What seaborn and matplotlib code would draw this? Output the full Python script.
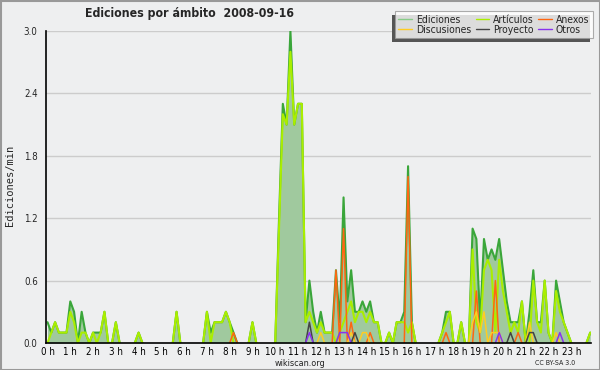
import os
import numpy as np
import pandas as pd
import matplotlib
matplotlib.use("Agg")
import matplotlib.pyplot as plt
from matplotlib.patches import Rectangle
from matplotlib.lines import Line2D
from matplotlib import font_manager as fm
import seaborn as sns

sns.set_style("white")
plt.rcParams["font.family"] = ["DejaVu Sans"]

# 10-minute slots, 24 h -> 144 values per series (edits/min)
hour_labels = [f"{h} h" for h in range(24)]

ediciones = [
    0.2, 0.1, 0.2, 0.1, 0.1, 0.1,
    0.4, 0.3, 0.0, 0.3, 0.1, 0.0,
    0.1, 0.1, 0.1, 0.3, 0.0, 0.0,
    0.2, 0.0, 0.0, 0.0, 0.0, 0.0,
    0.1, 0.0, 0.0, 0.0, 0.0, 0.0,
    0.0, 0.0, 0.0, 0.0, 0.3, 0.0,
    0.0, 0.0, 0.0, 0.0, 0.0, 0.0,
    0.3, 0.1, 0.2, 0.2, 0.2, 0.3,
    0.2, 0.1, 0.0, 0.0, 0.0, 0.0,
    0.2, 0.0, 0.0, 0.0, 0.0, 0.0,
    0.0, 1.2, 2.3, 2.1, 3.0, 2.1,
    2.3, 2.3, 0.2, 0.6, 0.3, 0.1,
    0.3, 0.1, 0.1, 0.1, 0.7, 0.2,
    1.4, 0.4, 0.7, 0.3, 0.3, 0.4,
    0.3, 0.4, 0.2, 0.2, 0.0, 0.0,
    0.1, 0.0, 0.2, 0.2, 0.3, 1.7,
    0.2, 0.0, 0.0, 0.0, 0.0, 0.0,
    0.0, 0.0, 0.1, 0.3, 0.3, 0.0,
    0.0, 0.2, 0.0, 0.0, 1.1, 1.0,
    0.2, 1.0, 0.8, 0.9, 0.8, 1.0,
    0.7, 0.4, 0.2, 0.2, 0.2, 0.4,
    0.0, 0.3, 0.7, 0.2, 0.2, 0.6,
    0.1, 0.0, 0.6, 0.4, 0.2, 0.1,
    0.0, 0.0, 0.0, 0.0, 0.0, 0.1,
]

articulos = [
    0.0, 0.1, 0.2, 0.1, 0.1, 0.1,
    0.3, 0.2, 0.0, 0.1, 0.1, 0.0,
    0.1, 0.0, 0.1, 0.3, 0.0, 0.0,
    0.2, 0.0, 0.0, 0.0, 0.0, 0.0,
    0.1, 0.0, 0.0, 0.0, 0.0, 0.0,
    0.0, 0.0, 0.0, 0.0, 0.3, 0.0,
    0.0, 0.0, 0.0, 0.0, 0.0, 0.0,
    0.3, 0.0, 0.2, 0.2, 0.2, 0.3,
    0.2, 0.0, 0.0, 0.0, 0.0, 0.0,
    0.2, 0.0, 0.0, 0.0, 0.0, 0.0,
    0.0, 1.1, 2.2, 2.1, 2.8, 2.1,
    2.3, 2.3, 0.2, 0.3, 0.2, 0.1,
    0.2, 0.1, 0.1, 0.1, 0.0, 0.1,
    0.2, 0.3, 0.4, 0.2, 0.3, 0.3,
    0.2, 0.3, 0.2, 0.2, 0.0, 0.0,
    0.1, 0.0, 0.2, 0.2, 0.2, 0.1,
    0.2, 0.0, 0.0, 0.0, 0.0, 0.0,
    0.0, 0.0, 0.1, 0.2, 0.3, 0.0,
    0.0, 0.2, 0.0, 0.0, 0.9, 0.2,
    0.1, 0.7, 0.8, 0.7, 0.1, 0.8,
    0.5, 0.3, 0.1, 0.2, 0.1, 0.4,
    0.0, 0.0, 0.6, 0.2, 0.1, 0.6,
    0.1, 0.0, 0.5, 0.3, 0.2, 0.1,
    0.0, 0.0, 0.0, 0.0, 0.0, 0.1,
]

anexos = [0.0] * 144
for i, v in {49: 0.1, 76: 0.7, 78: 1.1, 80: 0.2, 85: 0.1, 95: 1.6,
             105: 0.1, 113: 0.5, 118: 0.6, 124: 0.1}.items():
    anexos[i] = v

discusiones = [0.0] * 144
for i, v in {72: 0.1, 80: 0.1, 83: 0.1, 84: 0.1, 112: 0.2, 113: 0.3,
             114: 0.1, 115: 0.3, 117: 0.1, 118: 0.1, 119: 0.1, 127: 0.2,
             134: 0.1}.items():
    discusiones[i] = v

proyecto = [0.0] * 144
for i, v in {69: 0.2, 81: 0.1, 122: 0.1, 127: 0.1, 128: 0.1}.items():
    proyecto[i] = v

otros = [0.0] * 144
for i, v in {69: 0.1, 77: 0.1, 78: 0.1, 79: 0.1, 119: 0.1, 135: 0.1}.items():
    otros[i] = v

series_names = ["Ediciones", "Artículos", "Anexos", "Discusiones", "Proyecto", "Otros"]
series_values = [ediciones, articulos, anexos, discusiones, proyecto, otros]

# ---- fonts: prefer a condensed DejaVu face if the files exist ----
def find_font(fragment):
    for f in fm.findSystemFonts():
        if os.path.basename(f) == fragment:
            return f
    return None

cond = find_font("DejaVuSansCondensed.ttf")
cond_b = find_font("DejaVuSansCondensed-Bold.ttf")
fp_small = fm.FontProperties(fname=cond) if cond else fm.FontProperties(family="DejaVu Sans")
fp_bold = fm.FontProperties(fname=cond_b) if cond_b else fm.FontProperties(family="DejaVu Sans", weight="bold")

def fp(base, size):
    p = base.copy()
    p.set_size(size)
    return p

slot = np.arange(144)


def segments(vals):
    """Long-format frame keeping only runs that leave the zero baseline."""
    v = np.asarray(vals, dtype=float)
    keep = v > 0
    keep = keep | np.r_[keep[1:], False] | np.r_[False, keep[:-1]]
    seg = np.cumsum(np.r_[True, keep[1:] != keep[:-1]])
    d = pd.DataFrame({"slot": slot, "value": v, "seg": seg})
    return d[keep]


BG = "#eeeff0"
fig = plt.figure(figsize=(6, 3.7), dpi=100, facecolor=BG)
ax = fig.add_axes([46 / 600, 1 - 343 / 370, 545 / 600, 312 / 370])
ax.set_facecolor(BG)

colors = {
    "Ediciones": "#3aa63a",
    "Artículos": "#aaee00",
    "Anexos": "#ff6611",
    "Discusiones": "#ffcc22",
    "Proyecto": "#444444",
    "Otros": "#8833ee",
}
widths = {"Ediciones": 1.5, "Artículos": 1.5}
zord = {"Ediciones": 3, "Artículos": 4}

ax.fill_between(slot, ediciones, 0, color="#a0c99e", lw=0, zorder=1)
for name, vals in zip(series_names, series_values):
    d = segments(vals)
    sns.lineplot(data=d, x="slot", y="value", units="seg", estimator=None,
                 ax=ax, color=colors[name], lw=widths.get(name, 1.1),
                 zorder=zord.get(name, 5))

ax.set_xlim(-0.4, 143.2)
ax.set_ylim(0, 3.0)
ax.set_xticks(np.arange(0, 144, 6))
ax.set_xticklabels(hour_labels, fontproperties=fp(fp_small, 7))
ax.set_xticks(np.arange(0, 144, 1), minor=True)
yt = np.arange(0, 3.01, 0.6)
ax.set_yticks(yt)
ax.set_yticklabels([f"{v:.1f}" for v in yt], fontproperties=fp(fp_small, 7))
ax.set_yticks(np.arange(0, 3.01, 0.15), minor=True)
ax.tick_params(axis="x", which="major", direction="out", length=3, width=1,
               pad=0, colors="black")
ax.tick_params(axis="x", which="minor", direction="out", length=3, width=1)
ax.tick_params(axis="y", which="major", direction="out", length=5, width=1,
               pad=1)
ax.tick_params(axis="y", which="minor", direction="out", length=3, width=1)
ax.yaxis.grid(True, which="major", color="#cccccc", lw=1)
ax.set_axisbelow(True)
for s in ["top", "right"]:
    ax.spines[s].set_visible(False)
for s in ["left", "bottom"]:
    ax.spines[s].set_color("black")
    ax.spines[s].set_linewidth(1.2)
    ax.spines[s].set_zorder(6)
ax.set_xlabel("")
ax.set_ylabel("")

fig.text(10 / 600, 0.5, "Ediciones/min", rotation=90, va="center", ha="center",
         fontsize=7.5, family="DejaVu Sans Mono")
fig.text(85 / 600, 1 - 14 / 370, "Ediciones por ámbito  2008-09-16",
         fontproperties=fp(fp_bold, 8.8), va="center", ha="left")
fig.text(300 / 600, 1 - 363.5 / 370, "wikiscan.org", fontproperties=fp(fp_small, 6.5),
         va="center", ha="center", color="#222222")
fig.text(555 / 600, 1 - 363 / 370, "CC BY-SA 3.0", fontproperties=fp(fp_small, 5),
         va="center", ha="center", color="#222222")

order = ["Ediciones", "Discusiones", "Artículos", "Proyecto", "Anexos", "Otros"]
leg_colors = dict(colors)
leg_colors["Ediciones"] = "#88cc88"
handles = [Line2D([], [], color=leg_colors[n], lw=1) for n in order]
leg = fig.legend(handles, order, ncol=3, loc="upper right",
                 bbox_to_anchor=(593 / 600, 1 - 11 / 370),
                 prop=fp(fp_small, 7.5), frameon=True, fancybox=False,
                 handlelength=1.3, handletextpad=0.4, columnspacing=0.4,
                 labelspacing=0.0, borderpad=0.35, borderaxespad=0)
leg.get_frame().set_edgecolor("#999999")
leg.get_frame().set_facecolor("white")
leg.get_frame().set_linewidth(0.8)
leg.set_zorder(10)

fig.canvas.draw()
bb = leg.get_window_extent().transformed(fig.transFigure.inverted())
fig.patches.append(Rectangle((bb.x0 - 3 / 600, bb.y0 - 4 / 370), bb.width, bb.height,
                             transform=fig.transFigure, facecolor="#555555",
                             edgecolor="none", zorder=9))
fig.patches.append(Rectangle((0.5 / 600, 0.5 / 370), 599 / 600, 369 / 370,
                             transform=fig.transFigure, facecolor="none",
                             edgecolor="#999999", lw=1.5, zorder=0))

fig.savefig("out.png", dpi=100, facecolor=BG)
